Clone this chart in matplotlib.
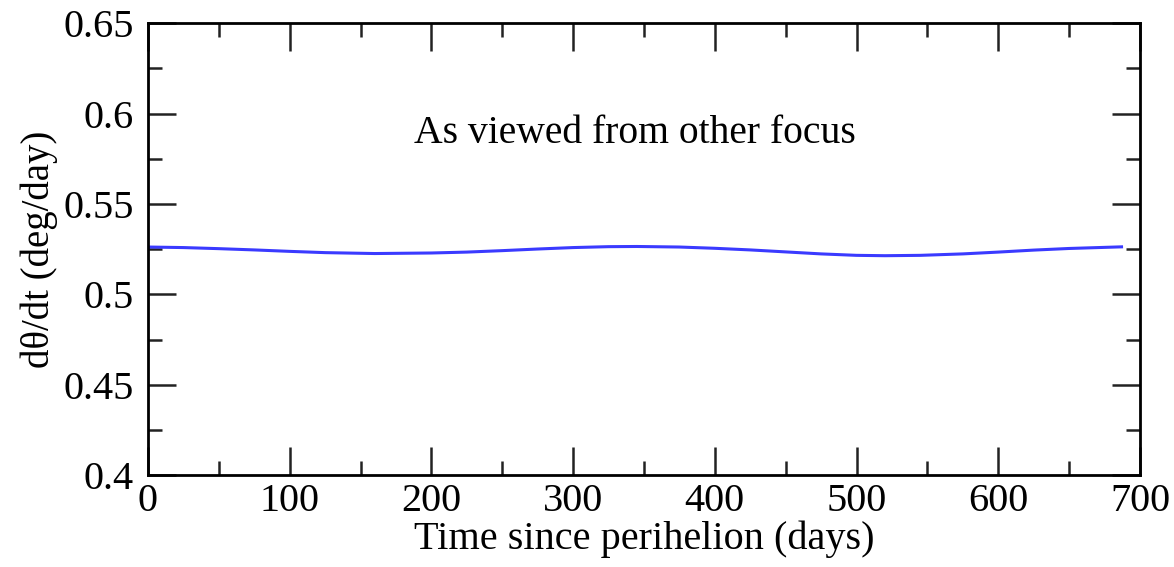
import matplotlib
matplotlib.use("Agg")
import matplotlib.pyplot as plt
from matplotlib.ticker import MultipleLocator

plt.rcParams['font.family'] = ['Liberation Serif', 'DejaVu Serif']

# angular rate seen from the empty focus
days = [0, 25, 50, 75, 100, 125, 160, 200, 225, 250, 275, 300, 325, 345,
        375, 400, 425, 450, 475, 500, 520, 545, 575, 600, 625, 650, 687]
rate = [0.5262, 0.5259, 0.5253, 0.5246, 0.5238, 0.5231, 0.5226, 0.5229,
        0.5234, 0.5242, 0.5251, 0.5259, 0.5264, 0.5265, 0.5262, 0.5255,
        0.5246, 0.5235, 0.5224, 0.5216, 0.5214, 0.5216, 0.5224, 0.5234,
        0.5245, 0.5254, 0.5263]
yticks = [0.4, 0.45, 0.5, 0.55, 0.6, 0.65]
ylabels = ['0.4', '0.45', '0.5', '0.55', '0.6', '0.65']

fig = plt.figure(figsize=(11.74, 5.67), dpi=100)
ax = fig.add_axes([0.126, 0.162, 0.845, 0.797])

ax.plot(days, rate, color='#3a3aff', lw=2.2)

ax.set_xlim(0, 700)
ax.set_ylim(0.4, 0.65)
ax.xaxis.set_major_locator(MultipleLocator(100))
ax.xaxis.set_minor_locator(MultipleLocator(50))
ax.yaxis.set_minor_locator(MultipleLocator(0.025))
ax.set_yticks(yticks)
ax.set_yticklabels(ylabels)

for s in ax.spines.values():
    s.set_linewidth(2)
ax.tick_params(which='both', direction='in', top=True, right=True, width=1.8, colors='#222222')
ax.tick_params(which='major', length=20, labelsize=29, pad=6, labelcolor='black')
ax.tick_params(which='minor', length=10)
ax.tick_params(axis='y', which='major', pad=10)

ax.set_xlabel('Time since perihelion (days)', fontsize=29, labelpad=0)
ax.set_ylabel('dθ/dt (deg/day)', fontsize=28, labelpad=4)

ax.text(0.491, 0.757, 'As viewed from other focus', transform=ax.transAxes,
        ha='center', va='center', fontsize=28.5)

fig.savefig('out.png', dpi=100)
